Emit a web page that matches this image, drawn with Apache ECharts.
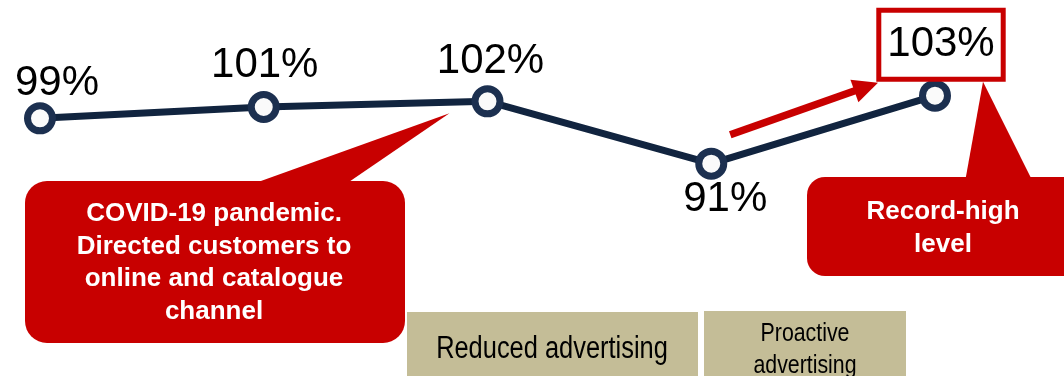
<!DOCTYPE html>
<html>
<head>
<meta charset="utf-8">
<script src="https://cdn.jsdelivr.net/npm/echarts@6/dist/echarts.min.js"></script>
<style>
  html, body { margin: 0; padding: 0; background: #ffffff; }
  #chart { width: 1064px; height: 376px; }
</style>
</head>
<body>
<div id="chart"></div>
<script>
// Sales ratio per period (%)
const periods = ['Y1', 'Y2', 'Y3', 'Y4', 'Y5'];
const ratios = [99, 101, 102, 91, 103];

// Annotation texts
const covidNote = ['COVID-19 pandemic.', 'Directed customers to', 'online and catalogue', 'channel'];
const recordNote = ['Record-high', 'level'];
const phaseLabels = ['Reduced advertising', 'Proactive\nadvertising'];

// Layout / styling
const FONT = "'Liberation Sans', Arial, Helvetica, sans-serif";
const NARROW_SCALE = 0.82; // condensed look for the phase captions
const RED = '#C80000';
const NAVY = '#11243F';
const RING = '#1C3050';
const TAN = '#C4BD97';
const LABEL_OFFSETS = [[17, -35], [1, -42], [3, -40], [14, 36], [6, -51]];

const chart = echarts.init(document.getElementById('chart'), null, { renderer: 'canvas' });

const seriesData = ratios.map((v, i) => {
  const item = {
    value: v,
    label: { offset: LABEL_OFFSETS[i] }
  };
  if (i === ratios.length - 1) {
    // highest value gets a framed label
    item.label = {
      offset: LABEL_OFFSETS[i],
      backgroundColor: '#ffffff',
      borderColor: RED,
      borderWidth: 5,
      padding: [13, 6, 9, 6],
      lineHeight: 42
    };
  }
  return item;
});

chart.setOption({
  animation: false,
  backgroundColor: '#ffffff',
  grid: { left: 40, right: 129, top: 56, height: 170 },
  xAxis: {
    type: 'category',
    data: periods,
    boundaryGap: false,
    show: false
  },
  yAxis: {
    type: 'value',
    min: 80,
    max: 110,
    show: false
  },
  series: [{
    type: 'line',
    data: seriesData,
    z: 5,
    lineStyle: { color: NAVY, width: 7 },
    symbol: 'circle',
    symbolSize: 25,
    itemStyle: { color: '#FAFAFA', borderColor: RING, borderWidth: 7 },
    emphasis: { disabled: true },
    label: {
      show: true,
      position: 'inside',
      formatter: p => p.value + '%',
      color: '#000000',
      fontFamily: FONT,
      fontSize: 42,
      lineHeight: 42
    }
  }]
});

// Annotations anchored to the plotted points
function px(i) {
  return chart.convertToPixel({ seriesIndex: 0 }, [i, ratios[i]]);
}

const p2 = px(2), p3 = px(3), p4 = px(4);

// Trend arrow between the last two periods
const tail = [p3[0] + 19, p3[1] - 29];
const tip = [p4[0] - 57, p4[1] - 13];
const dx = tip[0] - tail[0], dy = tip[1] - tail[1];
const len = Math.hypot(dx, dy);
const ux = dx / len, uy = dy / len;
const nx = -uy, ny = ux;
const headLen = 25, headHalf = 12;
const base = [tip[0] - ux * headLen, tip[1] - uy * headLen];

// Condensed caption: text scaled horizontally around its centre
function caption(text, cx, cy, size, lineHeight) {
  return {
    type: 'group', z: 2,
    x: cx, y: cy,
    scaleX: NARROW_SCALE,
    children: [{
      type: 'text', z: 2,
      style: {
        text, x: 0, y: 0,
        fill: '#000', fontSize: size, fontFamily: FONT, lineHeight,
        align: 'center', verticalAlign: 'middle'
      }
    }]
  };
}

const graphics = [
  // phase boxes at the bottom
  {
    type: 'rect', z: 1,
    shape: { x: 407, y: 312, width: 291, height: 80 },
    style: { fill: TAN }
  },
  caption(phaseLabels[0], 552, 349, 31, 31),
  {
    type: 'rect', z: 1,
    shape: { x: 704, y: 311, width: 202, height: 80 },
    style: { fill: TAN }
  },
  caption(phaseLabels[1], 805, 350, 26, 32),
  // COVID callout
  {
    type: 'polygon', z: 3,
    shape: { points: [[247, 186], [343, 186], [p2[0] - 38, p2[1] + 12]] },
    style: { fill: RED }
  },
  {
    type: 'rect', z: 3,
    shape: { x: 25, y: 181, width: 380, height: 162, r: 22 },
    style: { fill: RED }
  },
  {
    type: 'text', z: 4,
    style: {
      text: covidNote.join('\n'), x: 214, y: 263,
      fill: '#fff', fontSize: 26, fontWeight: 'bold', fontFamily: FONT, lineHeight: 32.5,
      align: 'center', verticalAlign: 'middle'
    }
  },
  // Record-high callout
  {
    type: 'polygon', z: 3,
    shape: { points: [[965, 182], [1033, 182], [p4[0] + 48, p4[1] - 14]] },
    style: { fill: RED }
  },
  {
    type: 'rect', z: 3,
    shape: { x: 807, y: 177, width: 280, height: 99, r: 18 },
    style: { fill: RED }
  },
  {
    type: 'text', z: 4,
    style: {
      text: recordNote.join('\n'), x: 943, y: 228,
      fill: '#fff', fontSize: 26, fontWeight: 'bold', fontFamily: FONT, lineHeight: 33,
      align: 'center', verticalAlign: 'middle'
    }
  },
  // trend arrow
  {
    type: 'line', z: 6,
    shape: { x1: tail[0], y1: tail[1], x2: base[0] + ux * 2, y2: base[1] + uy * 2 },
    style: { stroke: RED, lineWidth: 7.5 }
  },
  {
    type: 'polygon', z: 6,
    shape: {
      points: [
        tip,
        [base[0] + nx * headHalf, base[1] + ny * headHalf],
        [base[0] - nx * headHalf, base[1] - ny * headHalf]
      ]
    },
    style: { fill: RED }
  }
];

chart.setOption({ graphic: graphics });
</script>
</body>
</html>
